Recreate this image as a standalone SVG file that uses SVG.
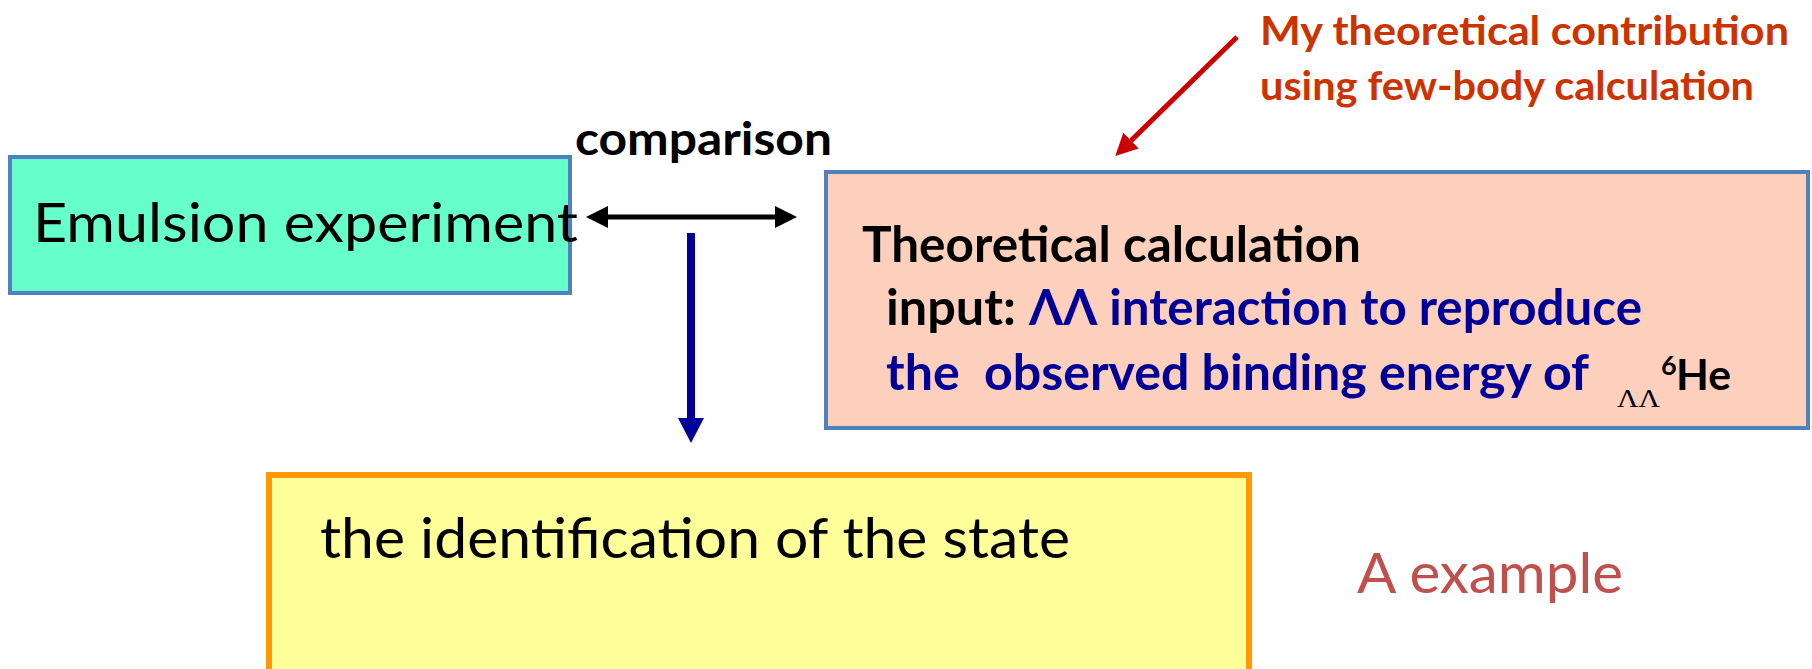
<svg xmlns="http://www.w3.org/2000/svg" width="1812" height="669" viewBox="0 0 1812 669">
<style>
  text { font-family: Lato, "Liberation Sans", "DejaVu Sans", sans-serif; }
  .reg { font-weight: normal; fill: #000000; }
  .bold { font-weight: bold; }
  .blk { fill: #000000; }
  .blu { fill: #000099; }
  .red { fill: #CC3300; }
  .box { stroke-width: 4; }
</style>
<defs>
  <marker id="headBlack" viewBox="0 0 22 22" refX="0" refY="11" markerWidth="22" markerHeight="22" markerUnits="userSpaceOnUse" orient="auto-start-reverse">
    <path d="M0,0 L22,11 L0,22 z" fill="#000000"/>
  </marker>
  <marker id="headBlue" viewBox="0 0 25 26" refX="0" refY="13" markerWidth="25" markerHeight="26" markerUnits="userSpaceOnUse" orient="auto">
    <path d="M0,0 L25,13 L0,26 z" fill="#000099"/>
  </marker>
  <marker id="headRed" viewBox="0 0 22 22" refX="0" refY="11" markerWidth="22" markerHeight="22" markerUnits="userSpaceOnUse" orient="auto">
    <path d="M0,0 L22,11 L0,22 z" fill="#CC0000"/>
  </marker>
</defs>

<g id="node-emulsion">
  <rect x="10" y="157" width="560" height="136" fill="#66FFCC" stroke="#4F81BD" class="box"/>
  <text x="33" y="242" font-size="55" class="reg" textLength="545" lengthAdjust="spacingAndGlyphs">Emulsion experiment</text>
</g>

<g id="node-theory">
  <rect x="826" y="172" width="982" height="256" fill="#FDD0BE" stroke="#4F81BD" class="box"/>
  <text x="862" y="262" font-size="49" class="bold blk" textLength="499" lengthAdjust="spacingAndGlyphs">Theoretical calculation</text>
  <text x="886" y="325" font-size="49" class="bold blk" textLength="130" lengthAdjust="spacingAndGlyphs">input:</text>
  <text x="1029" y="325" font-size="49" class="bold blu" textLength="613" lengthAdjust="spacingAndGlyphs">ΛΛ interaction to reproduce</text>
  <text x="886" y="390" font-size="49" class="bold blu" xml:space="preserve" textLength="703" lengthAdjust="spacingAndGlyphs">the  observed binding energy of</text>
  <text x="1617" y="407" font-size="26" style="font-family: 'Liberation Serif', 'DejaVu Serif', serif;" fill="#000000" textLength="43" lengthAdjust="spacingAndGlyphs">ΛΛ</text>
  <text x="1661" y="375" font-size="27" class="bold blk">6</text>
  <text x="1676" y="390" font-size="42" class="bold blk" textLength="55" lengthAdjust="spacingAndGlyphs">He</text>
</g>

<g id="node-identification">
  <rect x="269" y="475" width="980" height="220" fill="#FFFF99" stroke="#FF9900" stroke-width="6"/>
  <text x="320" y="558" font-size="57" class="reg" textLength="750" lengthAdjust="spacingAndGlyphs">the identification of the state</text>
</g>

<g id="label-comparison">
  <text x="575" y="155" font-size="45" class="bold blk" textLength="257" lengthAdjust="spacingAndGlyphs">comparison</text>
</g>

<g id="label-contribution">
  <text x="1260" y="45" font-size="41" class="bold red" textLength="529" lengthAdjust="spacingAndGlyphs">My theoretical contribution</text>
  <text x="1260" y="100" font-size="41" class="bold red" textLength="494" lengthAdjust="spacingAndGlyphs">using few-body calculation</text>
</g>

<g id="label-example">
  <text x="1357" y="593" font-size="57" fill="#C0504D" textLength="266" lengthAdjust="spacingAndGlyphs">A example</text>
</g>

<g id="connectors">
  <line x1="608" y1="217" x2="775" y2="217" stroke="#000000" stroke-width="5" marker-start="url(#headBlack)" marker-end="url(#headBlack)"/>
  <line x1="691" y1="233" x2="691" y2="418" stroke="#000099" stroke-width="8" marker-end="url(#headBlue)"/>
  <line x1="1237" y1="37" x2="1131" y2="140.6" stroke="#CC0000" stroke-width="5" marker-end="url(#headRed)"/>
</g>
</svg>
